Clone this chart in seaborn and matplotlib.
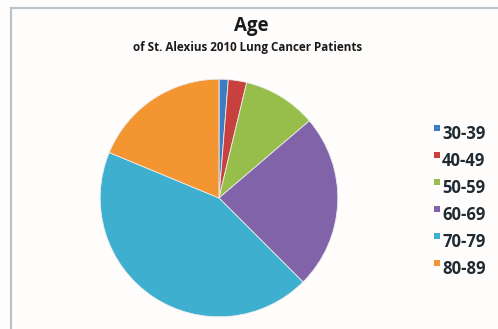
import matplotlib
matplotlib.use("Agg")
import matplotlib.pyplot as plt
from matplotlib.patches import Rectangle
import seaborn as sns

# Patients per age group
age_groups = ["30-39", "40-49", "50-59", "60-69", "70-79", "80-89"]
patients = [1, 2, 8, 19, 35, 15]
colors = ["#3D7CC4", "#C7423F", "#97BE4A", "#8163AA", "#3FAFCF", "#F39531"]

title = "Age"
subtitle = "of St. Alexius 2010 Lung Cancer Patients"

sns.set_theme(style="white")
plt.rcParams["font.family"] = ["Open Sans", "DejaVu Sans"]

W, H = 498, 329
fig = plt.figure(figsize=(W / 100, H / 100), dpi=100)
fig.patch.set_facecolor("#FFFDFB")

# Chart frame (left and top edges visible)
fig.patches.append(Rectangle((11 / W, -0.05), 1.1, (H - 8) / H + 0.05,
                             transform=fig.transFigure, fill=False,
                             edgecolor="#B9C3CC", linewidth=1.6))

# Pie area
cx, cy, r = 219, 198, 120
ax = fig.add_axes([(cx - r) / W, (H - cy - r) / H, 2 * r / W, 2 * r / H])
ax.pie(patients, colors=colors, startangle=90, counterclock=False,
       radius=1.0, wedgeprops=dict(edgecolor="#EDEDED", linewidth=0.6))
ax.set_xlim(-1.01, 1.01)
ax.set_ylim(-1.01, 1.01)
ax.set_aspect("equal")
ax.axis("off")

# Titles
fig.text(251 / W, 1 - 26 / H, title, ha="center", va="center",
         fontsize=13.5, fontweight="bold", color="#1A1A1A")
fig.text(248 / W, 1 - 48 / H, subtitle, ha="center", va="center",
         fontsize=8.4, fontweight="bold", color="#1A1A1A")

# Legend
y0, dy = 134, 27
for i, (lab, col) in enumerate(zip(age_groups, colors)):
    y = y0 + i * dy
    fig.patches.append(Rectangle((434 / W, 1 - (y - 3) / H), 6 / W, 6 / H,
                                 transform=fig.transFigure, facecolor=col,
                                 edgecolor="none"))
    fig.text(442 / W, 1 - y / H, lab, ha="left", va="center",
             fontsize=12, fontweight="bold", color="#1F2A33")

fig.savefig("out.png", dpi=100, facecolor=fig.get_facecolor())
